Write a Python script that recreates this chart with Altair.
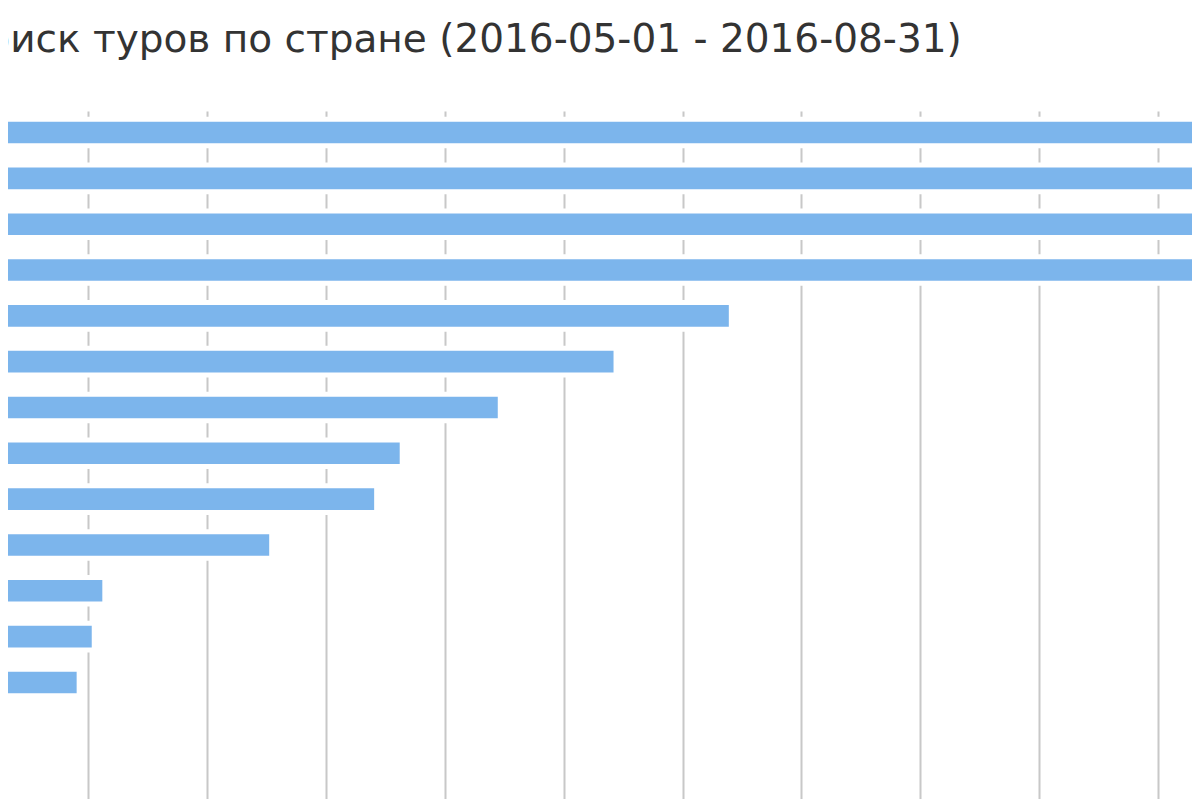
import altair as alt
import pandas as pd

title_text = "Поиск туров по стране (2016-05-01 - 2016-08-31)"
categories = ["1", "2", "3", "4", "5", "6", "7", "8", "9", "10", "11", "12", "13", "14", "15"]
values = [16200, 14800, 13100, 11600, 6410, 5440, 4466, 3641, 3426, 2543, 1139, 1050, 923, 278, 150]
tick_values = [1000, 2000, 3000, 4000, 5000, 6000, 7000, 8000, 9000, 10000]
x_domain = [324.4, 10285.8]

df = pd.DataFrame({"cat": categories, "value": values})

chart = alt.Chart(df).mark_bar(
    color="#7cb5ec", stroke="white", strokeWidth=5, clip=True
).encode(
    x=alt.X(
        "value:Q",
        scale=alt.Scale(domain=x_domain, nice=False, zero=False),
        axis=alt.Axis(values=tick_values, labels=False, ticks=False, domain=False,
                      grid=True, gridColor="#c8c8c8", gridWidth=2, title=None),
    ),
    y=alt.Y(
        "cat:N", sort=categories,
        scale=alt.Scale(range=[1.6, 689.05], paddingInner=0.42, paddingOuter=0.21),
        axis=None,
    ),
).properties(
    width=1184,
    height=692,
    autosize="none",
    padding={"left": 0, "right": 0, "top": 100, "bottom": 0},
    title=alt.TitleParams(
        text=title_text, anchor="start", font="DejaVu Sans", fontSize=39,
        fontWeight="normal", color="#333333", dx=-51, offset=17.5,
        baseline="alphabetic",
    ),
).configure_view(strokeWidth=0)

chart.save("out.html", embed_options={"renderer": "svg", "actions": False})
